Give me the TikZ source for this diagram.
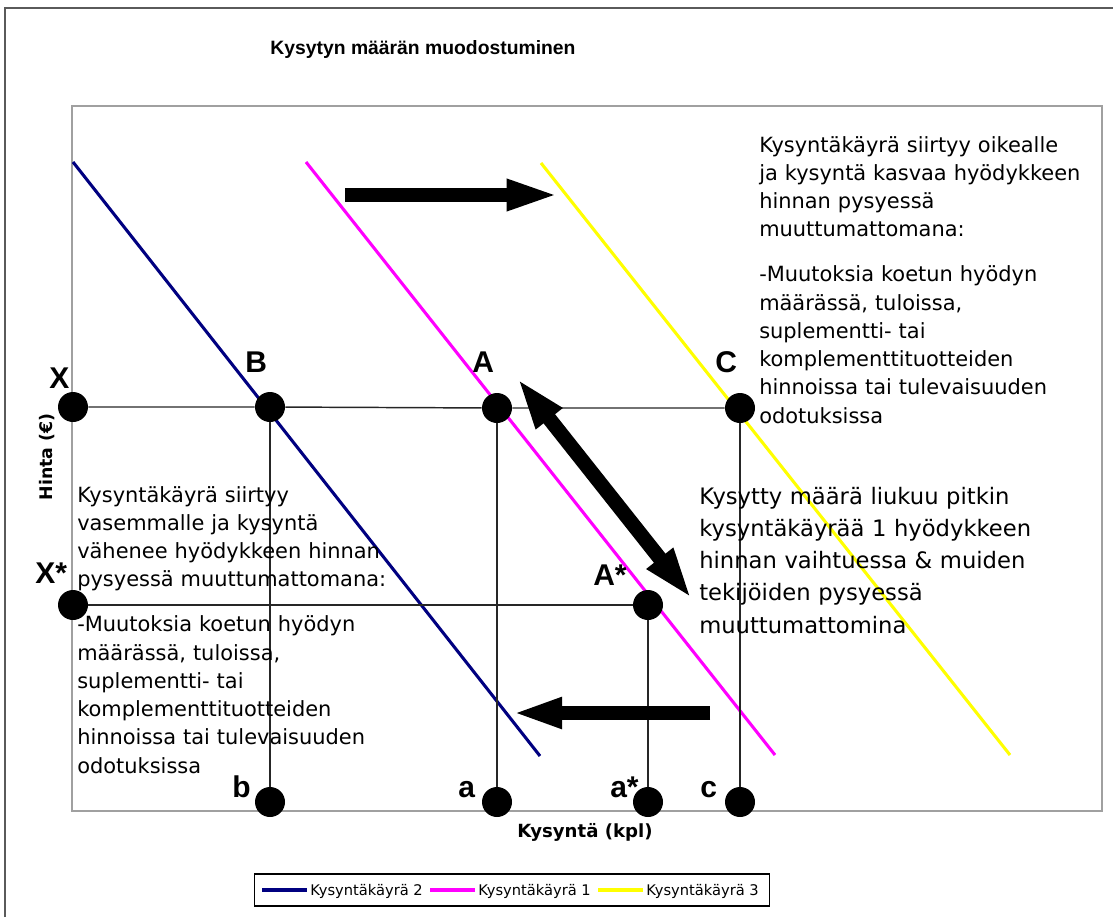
\documentclass[tikz,border=0pt]{standalone}
\usepackage{fontspec}
\setmainfont{DejaVu Sans}
\newfontfamily\arialfont{Liberation Sans}
\usetikzlibrary{arrows.meta}
\usetikzlibrary{positioning}

\definecolor{curvetwo}{RGB}{0,0,128}
\definecolor{curveone}{RGB}{255,0,255}
\definecolor{curvethree}{RGB}{255,255,0}
\definecolor{framegray}{RGB}{160,160,160}
\definecolor{outergray}{RGB}{90,90,90}

\begin{document}
\begin{tikzpicture}[x=0.75pt,y=-0.75pt]
          \tikzstyle{dot} = [circle, fill=black, minimum size=22.5pt, inner sep=0pt]
          \tikzstyle{ptlabel} = [anchor=base west, inner sep=0pt, font=\arialfont\bfseries\fontsize{22.5}{24}\selectfont]
          \tikzstyle{guide} = [draw=black!85, line width=1.1pt]
          \tikzstyle{demand} = [line width=2.3pt]
          \tikzstyle{note} = [anchor=base west, inner sep=0pt, text width=300pt, align=left]
          \tikzstyle{axislabel} = [inner sep=0pt, font=\bfseries\fontsize{13}{15}\selectfont]
          \tikzstyle{bigarrow} = [line width=10.5pt, -{Triangle[length=40pt,width=21pt]}]

          \useasboundingbox (0,0) rectangle (1113,917);

          % Chart area and plot area
          \draw[outergray, line width=1.6pt] (5,917) -- (5,8) -- (1113,8);
          \draw[framegray, line width=1.2pt] (72,106) rectangle (1102,811);

          \node[anchor=base, inner sep=0pt, font=\arialfont\bfseries\fontsize{14.5}{17}\selectfont]
            (title) at (423,55) {Kysytyn määrän muodostuminen};

          % Demand curves
          \coordinate (n1) at (73,162);   \coordinate (n2) at (540,756);
          \coordinate (m1) at (306,162);  \coordinate (m2) at (775,755);
          \coordinate (y1) at (541,163);  \coordinate (y2) at (1010,755);
          \draw[demand, curvetwo] (n1) -- (n2);
          \draw[demand, curveone] (m1) -- (m2);
          \draw[demand, curvethree] (y1) -- (y2);

          % Points
          \foreach \name / \x / \y in {X/73/407, B/270/407, A/497/408, C/740/408,
                                       Xs/73/605, As/648/605,
                                       b/270/802, a/497/802, as/648/802, c/740/802}
            \node[dot] (\name) at (\x, \y) {};

          % Guide lines
          \draw[guide] (X) -- (B) -- (A) -- (C);
          \draw[guide] (Xs) -- (As);
          \draw[guide] (B) -- (b);
          \draw[guide] (A) -- (a);
          \draw[guide] (As) -- (as);
          \draw[guide] (C) -- (c);

          % Point labels
          \foreach \txt / \x / \y in {X/49/388, B/245/372, A/472/372, C/715/372,
                                      X*/35/583, A*/593/585,
                                      b/232/797, a/458/797, a*/610/797, c/700/797}
            \node[ptlabel] at (\x, \y) {\txt};

          % Shift and slide arrows
          \coordinate (r1) at (345,195);  \coordinate (r2) at (560,195);
          \coordinate (l1) at (710,713);  \coordinate (l2) at (512,713);
          \coordinate (d1) at (517,378);  \coordinate (d2) at (692,599);
          \draw[bigarrow] (r1) -- (r2);
          \draw[bigarrow, line width=11pt, -{Triangle[length=37.5pt,width=21pt]}] (l1) -- (l2);
          \draw[line width=11pt, {Triangle[length=39pt,width=22.5pt]}-{Triangle[length=39pt,width=22.5pt]}] (d1) -- (d2);

          % Notes
          \node[note, font=\fontsize{15.7}{21.2}\selectfont] (rightnote) at (759,152)
            {Kysyntäkäyrä siirtyy oikealle\\ja kysyntä kasvaa hyödykkeen\\hinnan pysyessä\\muuttumattomana:\\[12.5pt]-Muutoksia koetun hyödyn\\määrässä, tuloissa,\\suplementti- tai\\komplementtituotteiden\\hinnoissa tai tulevaisuuden\\odotuksissa};
          \node[note, font=\fontsize{17}{24.2}\selectfont] (slidenote) at (699,504)
            {Kysytty määrä liukuu pitkin\\kysyntäkäyrää 1 hyödykkeen\\hinnan vaihtuessa \& muiden\\tekijöiden pysyessä\\muuttumattomina};
          \node[note, font=\fontsize{15.7}{21.2}\selectfont] (leftnote) at (77,502)
            {Kysyntäkäyrä siirtyy\\vasemmalle ja kysyntä\\vähenee hyödykkeen hinnan\\pysyessä muuttumattomana:\\[12.5pt]-Muutoksia koetun hyödyn\\määrässä, tuloissa,\\suplementti- tai\\komplementtituotteiden\\hinnoissa tai tulevaisuuden\\odotuksissa};

          % Axis labels
          \node[axislabel, rotate=90] (ylabel) at (47,457) {Hinta (€)};
          \node[axislabel, anchor=base, font=\bfseries\fontsize{13.6}{15}\selectfont] (xlabel) at (585,837) {Kysyntä (kpl)};

          % Legend
          \node[draw=black, line width=0.9pt, minimum width=386pt, minimum height=24pt, inner sep=0pt]
            (legend) at (512,890) {};
          \foreach \i / \x / \col / \txt in {2/262/curvetwo/Kysyntäkäyrä 2,
                                             1/430/curveone/Kysyntäkäyrä 1,
                                             3/598/curvethree/Kysyntäkäyrä 3} {
            \coordinate (keya\i) at (\x,890);
            \coordinate (keyb\i) at (\x+45,890);
            \draw[\col, line width=3.2pt] (keya\i) -- (keyb\i);
            \node[anchor=base west, inner sep=0pt, font=\fontsize{11}{13}\selectfont]
              (keytext\i) at (\x+48,895) {\txt};
          }

        \end{tikzpicture}
\end{document}
